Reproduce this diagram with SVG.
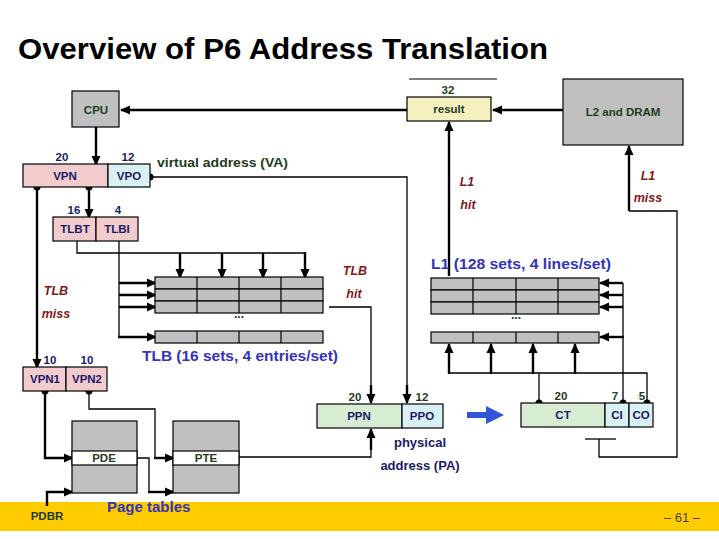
<svg xmlns="http://www.w3.org/2000/svg" width="719" height="539" viewBox="0 0 719 539">
<style>
text{font-family:"Liberation Sans",Arial,sans-serif;font-weight:bold}
.t{font-size:11.5px;text-anchor:middle}
.g{fill:#1e3c1e}
.n{fill:#1a1a66}
.r{fill:#7f1a1a;font-style:italic;font-size:12.5px;text-anchor:middle}
.b{fill:#3333bb;font-size:15px}
.pa{font-size:13px}
.box{stroke:#000;stroke-width:1.2}
.gray{fill:#c0c0c0}
.pink{fill:#f2cccc}
.cyan{fill:#d9f0f5}
.green{fill:#d8ecd4}
.yel{fill:#f5f0c0}
.thk{stroke:#000;stroke-width:2.4;fill:none}
.thn{stroke:#000;stroke-width:1.3;fill:none}
.row{fill:#c0c0c0;stroke:#000;stroke-width:1.2}
</style>
<defs>
<marker id="ah" markerUnits="userSpaceOnUse" markerWidth="10" markerHeight="10" viewBox="0 0 10 10" refX="9" refY="5" orient="auto">
<path d="M0,0.5 L10,5 L0,9.5 z" fill="#000"/>
</marker>
</defs>
<rect x="0" y="0" width="719" height="539" fill="#fff"/>
<text x="18" y="59" font-size="29" textLength="530" lengthAdjust="spacingAndGlyphs" fill="#000">Overview of P6 Address Translation</text>
<line x1="409" y1="79" x2="497" y2="79" stroke="#000" stroke-width="1"/>

<rect x="0" y="502" width="719" height="29" fill="#ffcc00"/>

<g id="connectors">
<line class="thk" x1="407" y1="110" x2="121" y2="110" marker-end="url(#ah)"/>
<line class="thk" x1="563" y1="110" x2="493" y2="110" marker-end="url(#ah)"/>
<line class="thk" x1="449" y1="276" x2="449" y2="122" marker-end="url(#ah)"/>
<line class="thk" x1="629" y1="211" x2="629" y2="146" marker-end="url(#ah)"/>
<polyline class="thn" points="629,211 677,211 677,457 599,457 599,439"/>
<line class="thn" x1="585" y1="439" x2="616" y2="439"/>
<line class="thk" x1="96" y1="127" x2="96" y2="165" marker-end="url(#ah)"/>
<polyline class="thn" points="150,177 407,177 407,392"/>
<line class="thk" x1="407" y1="385" x2="407" y2="403" marker-end="url(#ah)"/>
<circle cx="150" cy="177" r="3.5"/>
<line class="thk" x1="89" y1="187" x2="89" y2="218" marker-end="url(#ah)"/>
<circle cx="89" cy="187" r="3.5"/>
<line class="thk" x1="37" y1="187" x2="37" y2="368" marker-end="url(#ah)"/>
<circle cx="37" cy="187" r="3.5"/>
<polyline class="thn" points="77,241 77,253 305,253"/>
<line class="thk" x1="180" y1="253" x2="180" y2="278" marker-end="url(#ah)"/>
<line class="thk" x1="222" y1="253" x2="222" y2="278" marker-end="url(#ah)"/>
<line class="thk" x1="263" y1="253" x2="263" y2="278" marker-end="url(#ah)"/>
<line class="thk" x1="305" y1="252" x2="305" y2="278" marker-end="url(#ah)"/>
<polyline class="thn" points="119,241 119,337"/>
<line class="thk" x1="119" y1="283" x2="156" y2="283" marker-end="url(#ah)"/>
<line class="thk" x1="119" y1="295" x2="156" y2="295" marker-end="url(#ah)"/>
<line class="thk" x1="119" y1="307" x2="156" y2="307" marker-end="url(#ah)"/>
<line class="thk" x1="118" y1="337" x2="156" y2="337" marker-end="url(#ah)"/>
<polyline class="thn" points="329,307 371,307 371,392"/>
<line class="thk" x1="371" y1="385" x2="371" y2="403" marker-end="url(#ah)"/>
<polyline class="thn" points="239,457 371,457 371,445"/>
<line class="thk" x1="371" y1="450" x2="371" y2="429" marker-end="url(#ah)"/>
<line class="thn" x1="623" y1="283" x2="623" y2="403"/>
<line class="thk" x1="623" y1="283" x2="600" y2="283" marker-end="url(#ah)"/>
<line class="thk" x1="623" y1="295" x2="600" y2="295" marker-end="url(#ah)"/>
<line class="thk" x1="623" y1="307" x2="600" y2="307" marker-end="url(#ah)"/>
<line class="thk" x1="624" y1="337" x2="600" y2="337" marker-end="url(#ah)"/>
<circle cx="623" cy="403" r="3.5"/>
<polyline class="thn" points="449,373 647,373 647,403"/>
<line class="thn" x1="539" y1="373" x2="539" y2="403"/>
<line class="thk" x1="449" y1="374" x2="449" y2="344" marker-end="url(#ah)"/>
<line class="thk" x1="491" y1="374" x2="491" y2="344" marker-end="url(#ah)"/>
<line class="thk" x1="533" y1="374" x2="533" y2="344" marker-end="url(#ah)"/>
<line class="thk" x1="575" y1="374" x2="575" y2="344" marker-end="url(#ah)"/>
<circle cx="539" cy="403" r="3.5"/>
<circle cx="647" cy="403" r="3.5"/>
<polyline class="thk" points="45,391 45,458 73,458" marker-end="url(#ah)"/>
<circle cx="45" cy="391" r="3.5"/>
<polyline class="thn" points="89,391 89,409 155,409 155,458"/>
<line class="thk" x1="154" y1="458" x2="174" y2="458" marker-end="url(#ah)"/>
<circle cx="89" cy="391" r="3.5"/>
<polyline class="thn" points="137,458 149,458 149,492"/>
<line class="thk" x1="148" y1="492" x2="174" y2="492" marker-end="url(#ah)"/>
<polyline class="thk" points="47,506 47,492 73,492" marker-end="url(#ah)"/>
<path d="M467,412 L486,412 L486,406 L504,415 L486,424 L486,418 L467,418 z" fill="#3355dd"/>
</g>

<g id="cpu">
<rect class="box gray" x="72" y="91" width="47" height="36"/>
<text class="t g" x="96" y="114">CPU</text>
</g>
<g id="result">
<rect class="box yel" x="407" y="97" width="84" height="24"/>
<text class="t g" x="449" y="113">result</text>
<text class="t g" x="448" y="94">32</text>
</g>
<g id="l2dram">
<rect class="box gray" x="563" y="79" width="120" height="66"/>
<text class="t g" x="623" y="116">L2 and DRAM</text>
</g>
<g id="va">
<rect class="box pink" x="23" y="164" width="85" height="23"/>
<rect class="box cyan" x="108" y="164" width="42" height="23"/>
<text class="t n" x="65" y="180">VPN</text>
<text class="t n" x="129" y="180">VPO</text>
<text class="t n" x="62" y="161">20</text>
<text class="t n" x="128" y="161">12</text>
<text x="157" y="167" font-size="12.5" textLength="131" lengthAdjust="spacingAndGlyphs" class="g">virtual address (VA)</text>
</g>
<g id="tlbtag">
<rect class="box pink" x="53" y="217" width="43" height="24"/>
<rect class="box pink" x="96" y="217" width="42" height="24"/>
<text class="t n" x="75" y="233">TLBT</text>
<text class="t n" x="117" y="233">TLBI</text>
<text class="t n" x="74" y="214">16</text>
<text class="t n" x="118" y="214">4</text>
</g>
<g id="tlb">
<rect class="row" x="155" y="277" width="168" height="12"/>
<rect class="row" x="155" y="289" width="168" height="12"/>
<rect class="row" x="155" y="301" width="168" height="12"/>
<rect class="row" x="155" y="331" width="168" height="12"/>
<path d="M197,277 V313 M239,277 V313 M281,277 V313 M197,331 V343 M239,331 V343 M281,331 V343" stroke="#000" stroke-width="1.2"/>
<text x="239" y="318" font-size="12" text-anchor="middle" class="g">...</text>
<text x="142" y="361" class="b" textLength="196" lengthAdjust="spacingAndGlyphs">TLB (16 sets, 4 entries/set)</text>
</g>
<g id="l1">
<rect class="row" x="431" y="278" width="168" height="12"/>
<rect class="row" x="431" y="290" width="168" height="12"/>
<rect class="row" x="431" y="302" width="168" height="12"/>
<rect class="row" x="431" y="332" width="168" height="11"/>
<path d="M473,278 V314 M516,278 V314 M558,278 V314 M473,332 V343 M516,332 V343 M558,332 V343" stroke="#000" stroke-width="1.2"/>
<text x="516" y="319" font-size="12" text-anchor="middle" class="g">...</text>
<text x="431" y="269" class="b" textLength="180" lengthAdjust="spacingAndGlyphs">L1 (128 sets, 4 lines/set)</text>
</g>
<g id="vpn12">
<rect class="box pink" x="23" y="367" width="43" height="24"/>
<rect class="box pink" x="66" y="367" width="41" height="24"/>
<text class="t n" x="45" y="383">VPN1</text>
<text class="t n" x="87" y="383">VPN2</text>
<text class="t n" x="50" y="364">10</text>
<text class="t n" x="87" y="364">10</text>
</g>
<g id="pa">
<rect class="box green" x="317" y="404" width="85" height="24"/>
<rect class="box cyan" x="402" y="404" width="41" height="24"/>
<text class="t n" x="359" y="420">PPN</text>
<text class="t n" x="422" y="420">PPO</text>
<text class="t g" x="355" y="401">20</text>
<text class="t g" x="422" y="401">12</text>
<text class="t n pa" x="420" y="447">physical</text>
<text class="t n pa" x="420" y="470">address (PA)</text>
</g>
<g id="cacheaddr">
<rect class="box green" x="521" y="403" width="84" height="24"/>
<rect class="box cyan" x="605" y="403" width="24" height="24"/>
<rect class="box cyan" x="629" y="403" width="24" height="24"/>
<text class="t n" x="563" y="419">CT</text>
<text class="t n" x="617" y="419">CI</text>
<text class="t n" x="641" y="419">CO</text>
<text class="t g" x="561" y="400">20</text>
<text class="t g" x="615" y="400">7</text>
<text class="t g" x="642" y="400">5</text>
</g>
<g id="pde">
<rect class="box gray" x="72" y="421" width="65" height="72"/>
<rect class="box" fill="#fff" x="72" y="451" width="65" height="14"/>
<text class="t g" x="104" y="462">PDE</text>
</g>
<g id="pte">
<rect class="box gray" x="173" y="421" width="66" height="72"/>
<rect class="box" fill="#fff" x="173" y="451" width="66" height="14"/>
<text class="t g" x="206" y="462">PTE</text>
</g>
<g id="labels">
<text class="r" x="467" y="186">L1</text>
<text class="r" x="468" y="209">hit</text>
<text class="r" x="648" y="180">L1</text>
<text class="r" x="648" y="202">miss</text>
<text class="r" x="355" y="275">TLB</text>
<text class="r" x="354" y="298">hit</text>
<text class="r" x="56" y="295">TLB</text>
<text class="r" x="56" y="318">miss</text>
<text class="t g" x="47" y="520">PDBR</text>
<text x="107" y="512" class="b">Page tables</text>
<text x="700" y="522" fill="#444" text-anchor="end" style="font-weight:normal;font-size:13px">– 61 –</text>
</g>
</svg>
